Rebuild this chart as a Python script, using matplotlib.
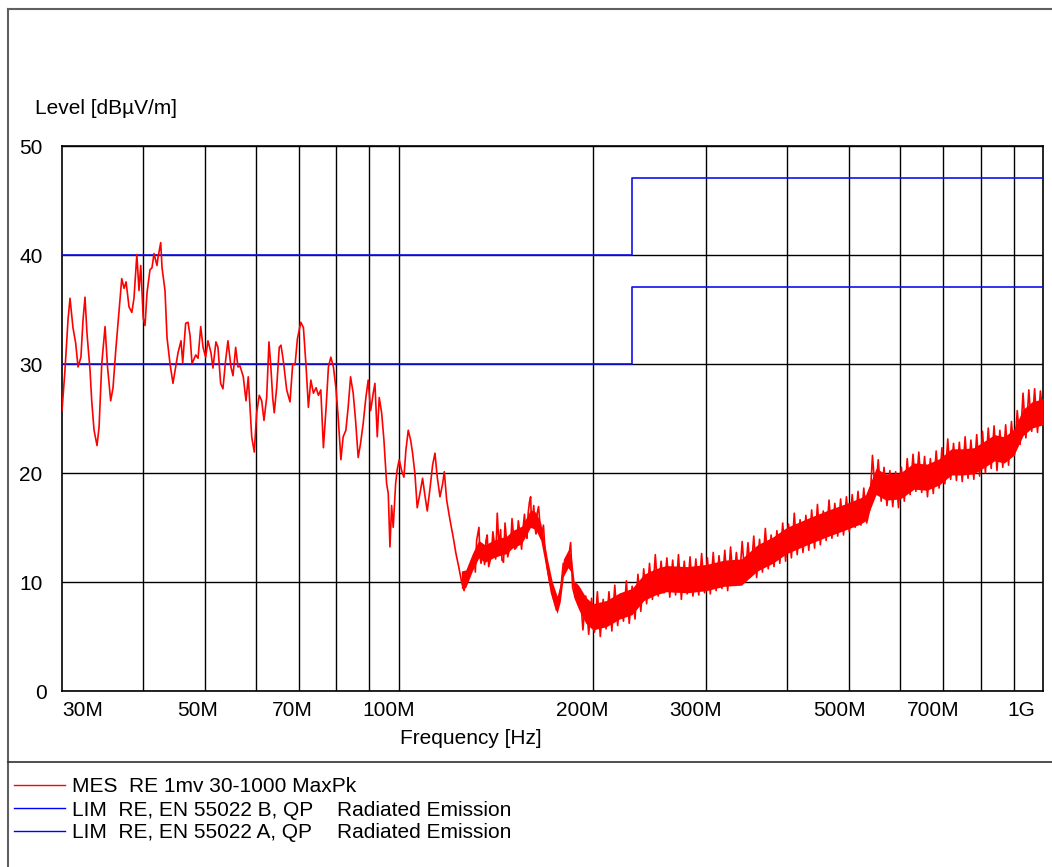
import numpy as np
import matplotlib
matplotlib.use("Agg")
import matplotlib.pyplot as plt
from matplotlib.lines import Line2D
from matplotlib.ticker import NullLocator
from matplotlib.transforms import ScaledTranslation, blended_transform_factory

plt.rcParams['font.family'] = ['Liberation Sans', 'DejaVu Sans']

# measurement, 30 M .. 190 M (MHz, dBuV/m)
mes_low_f = [
    30.0, 30.32, 30.65, 30.87, 31.2, 31.5, 31.77, 32.1, 32.34, 32.57, 32.8, 33.16, 33.36,
    33.64, 34.0, 34.25, 34.58, 34.99, 35.3, 35.7, 36.0, 36.35, 36.65, 37.14, 37.45, 37.72,
    38.12, 38.5, 38.8, 39.2, 39.5, 39.75, 40.1, 40.36, 40.65, 41.08, 41.38, 41.68, 42.12,
    42.27, 42.69, 42.89, 43.35, 43.66, 44.13, 44.6, 45.04, 45.41, 45.9, 46.18, 46.67, 47.06,
    47.4, 47.74, 48.38, 48.78, 49.25, 49.66, 50.13, 50.54, 51.09, 51.45, 52.0, 52.38, 52.88,
    53.32, 53.83, 54.28, 54.87, 55.27, 55.8, 56.26, 56.67, 57.34, 57.9, 58.37, 59.09, 59.64,
    60.15, 60.71, 61.24, 61.74, 62.34, 62.85, 63.23, 63.69, 64.05, 64.6, 65.21, 65.61, 66.15,
    66.96, 67.76, 68.42, 68.99, 69.58, 70.43, 71.09, 71.77, 72.36, 72.99, 73.67, 74.38, 75.0,
    75.64, 76.35, 77.09, 77.73, 78.4, 79.13, 79.83, 80.49, 81.27, 81.93, 82.73, 83.41, 84.13,
    84.92, 85.65, 86.45, 87.19, 88.0, 88.86, 89.6, 90.39, 91.23, 91.78, 92.55, 93.2, 94.01,
    94.78, 95.7, 96.26, 96.84, 97.42, 97.98, 98.83, 99.39, 100.1, 100.97, 101.8, 102.53,
    103.38, 104.27, 105.0, 105.89, 106.75, 107.79, 108.82, 109.75, 110.65, 111.71, 112.78,
    113.74, 114.68, 115.8, 116.9, 117.6, 118.6, 120.0, 121.4, 122.6, 123.8, 125.1, 126.2,
    127.4, 128.6, 129.7, 130.9, 131.4, 132.0, 133.1, 133.6, 134.1, 135.1, 135.8, 136.5,
    137.1, 137.8, 138.6, 139.3, 139.9, 140.6, 141.3, 142.1, 143.1, 143.8, 144.5, 145.3,
    146.1, 146.8, 147.5, 148.3, 149.1, 149.8, 150.4, 151.3, 152.3, 153.2, 154.1, 155.0,
    155.9, 156.6, 157.4, 158.0, 158.7, 159.4, 160.1, 160.6, 161.2, 161.9, 162.6, 163.2,
    163.9, 164.7, 165.5, 166.1, 166.8, 167.6, 168.4, 169.8, 171.1, 172.5, 174.0, 175.6,
    177.1, 178.4, 179.9, 181.6, 183.1, 184.7, 186.0, 187.6, 189.1,
]
mes_low_db = [
    25.7, 29.4, 34.0, 36.0, 33.3, 31.9, 29.7, 30.6, 34.0, 36.1, 32.8, 29.4, 26.6,
    23.9, 22.5, 24.2, 30.0, 33.4, 29.7, 26.6, 27.8, 31.2, 33.7, 37.8, 36.9, 37.5,
    35.2, 34.7, 36.0, 40.0, 36.7, 39.0, 34.2, 33.5, 36.5, 38.6, 38.8, 40.1, 39.0,
    39.7, 41.1, 38.8, 36.7, 32.4, 30.0, 28.2, 29.7, 31.0, 32.1, 30.1, 33.7, 33.8,
    32.6, 30.0, 30.8, 30.5, 33.4, 31.5, 30.6, 32.1, 31.0, 29.6, 32.0, 31.5, 28.2,
    27.7, 30.3, 32.1, 29.7, 28.9, 31.5, 29.7, 29.8, 28.8, 26.6, 28.8, 23.3, 21.9,
    25.5, 27.1, 26.6, 24.8, 26.9, 32.0, 30.0, 26.9, 25.5, 27.8, 31.5, 31.7, 30.3,
    27.6, 26.5, 30.0, 29.9, 32.3, 33.8, 33.3, 29.7, 26.0, 28.5, 27.3, 27.8, 27.1,
    27.6, 22.3, 26.0, 29.7, 30.6, 29.7, 27.8, 25.1, 21.2, 23.3, 23.9, 26.0, 28.8,
    27.3, 24.8, 21.4, 22.7, 24.5, 26.9, 28.5, 25.7, 27.3, 28.2, 23.3, 26.9, 25.5,
    23.0, 19.0, 18.1, 13.2, 17.0, 15.0, 19.0, 20.3, 21.2, 20.2, 19.6, 22.1,
    23.9, 23.0, 21.8, 19.9, 16.8, 18.1, 19.5, 17.9, 16.5, 18.5, 20.7,
    21.8, 19.6, 17.8, 19.0, 20.1, 17.5, 15.7, 14.1, 12.6, 11.4, 10.0, 9.2,
    10.2, 11.1, 11.7, 12.3, 10.9, 13.8, 15.0, 12.4, 11.7, 12.9, 11.6, 13.8,
    14.3, 11.4, 12.0, 12.9, 14.6, 13.6, 12.1, 16.3, 12.9, 14.8, 12.0, 11.8,
    15.4, 14.0, 12.3, 12.9, 13.6, 15.8, 14.7, 13.0, 13.2, 15.6, 14.5, 13.0,
    15.0, 16.2, 14.5, 14.0, 16.3, 17.3, 17.8, 15.2, 15.9, 17.0, 15.0, 14.4,
    16.3, 16.9, 15.4, 14.0, 14.5, 15.2, 13.2, 11.4, 10.2, 9.0, 8.3, 7.4,
    8.3, 9.5, 11.7, 11.4, 12.0, 13.6, 9.5, 8.6, 9.5,
]

# measurement, 191 M .. 1 G, receiver sweep with equal log steps
sweep_start, sweep_stop = 191.0, 1000.0
mes_high_db = [
    9.3, 5.6, 8.7, 5.2, 8.5, 5.4, 9.1, 5.0, 8.4, 5.7,
    9.1, 5.5, 9.7, 6.0, 8.8, 6.4, 10.1, 6.2, 9.6, 6.6,
    10.7, 7.3, 11.2, 8.0, 11.7, 8.4, 12.5, 8.7, 11.9, 9.0,
    12.2, 8.6, 12.0, 8.8, 12.5, 8.4, 11.9, 8.9, 12.3, 8.7,
    12.1, 8.8, 12.6, 9.0, 12.2, 8.9, 12.7, 9.2, 12.4, 9.4,
    12.9, 9.2, 13.2, 9.7, 12.7, 10.0, 13.7, 10.3, 13.6, 10.6,
    14.2, 10.4, 13.9, 10.9, 14.9, 11.2, 14.3, 11.4, 14.7, 11.7,
    15.4, 11.9, 15.3, 12.2, 16.3, 12.5, 15.7, 12.7, 16.1, 12.9,
    16.6, 13.1, 17.1, 13.4, 16.5, 13.8, 17.5, 14.0, 17.2, 14.2,
    17.6, 14.3, 17.8, 14.6, 18.0, 15.0, 18.3, 15.2, 18.6, 15.4,
    16.6, 21.6, 18.0, 21.2, 17.4, 20.5, 17.0, 20.2, 16.9, 20.1,
    16.8, 20.5, 17.4, 21.3, 18.0, 21.7, 18.3, 21.9, 18.2, 21.5,
    17.8, 21.3, 18.1, 22.0, 18.6, 22.3, 19.0, 23.1, 19.4, 22.7,
    19.3, 22.8, 19.2, 23.3, 19.5, 23.0, 19.4, 23.5, 19.7, 23.8,
    20.0, 24.1, 20.4, 24.3, 20.2, 23.9, 20.5, 24.4, 20.7, 24.7,
    21.6, 25.7, 22.6, 27.3, 23.2, 27.6, 23.8, 27.7, 23.7, 27.5,
    25.0,
]

# dense noise band of the trace: lower / upper edge (MHz, dBuV/m)
band_f = [125, 127, 130, 133, 136, 140, 143, 147, 150, 155, 158, 160, 163, 166, 168,
          170, 173, 176, 178, 180, 183, 185, 187, 190, 195, 200, 210, 220, 230, 240,
          250, 260, 280, 300, 320, 340, 360, 380, 400, 430, 460, 490, 520, 530, 545,
          550, 570, 600, 630, 660, 690, 720, 750, 780, 810, 840, 870, 900, 930, 960, 1000]
band_lo = [9.4, 9.5, 11.0, 12.2, 11.8, 12.2, 12.4, 12.6, 13.1, 13.5, 14.4, 15.0, 14.8, 13.8, 12.2,
           10.5, 8.4, 7.1, 8.2, 10.5, 11.3, 10.9, 8.5, 7.5, 6.2, 5.6, 5.9, 6.6, 7.0, 8.3,
           8.8, 9.1, 9.0, 9.2, 9.6, 9.7, 11.0, 11.7, 12.6, 13.4, 14.1, 14.7, 15.3, 15.6, 17.4,
           18.0, 17.5, 17.6, 18.5, 18.4, 18.9, 19.8, 19.8, 19.9, 20.5, 21.1, 20.9, 21.6, 23.4, 24.1, 24.4]
band_hi = [11.0, 11.1, 12.6, 13.8, 13.4, 13.8, 14.0, 14.2, 14.7, 15.1, 16.0, 16.6, 16.4, 15.4, 13.8,
           12.1, 10.0, 8.7, 9.8, 12.1, 12.9, 12.5, 10.1, 9.7, 8.6, 8.0, 8.3, 9.0, 9.4, 10.7,
           11.2, 11.5, 11.4, 11.6, 12.0, 12.1, 13.4, 14.1, 15.0, 15.8, 16.5, 17.1, 17.7, 18.0, 19.8,
           20.4, 19.9, 20.0, 20.9, 20.8, 21.3, 22.2, 22.2, 22.3, 22.9, 23.5, 23.3, 24.0, 25.8, 26.5, 26.8]

# limits EN 55022 (MHz, dBuV/m)
lim_f = [30, 230, 230, 1000]
lim_b_db = [30, 30, 37, 37]
lim_a_db = [40, 40, 47, 47]

grid_freqs = [40, 50, 60, 70, 80, 90, 100, 200, 300, 400, 500, 600, 700, 800, 900]
xtick_freqs = [30, 50, 70, 100, 200, 300, 500, 700, 1000]
xtick_labels = ['30M', '50M', '70M', '100M', '200M', '300M', '500M', '700M', '1G']
ytick_vals = [0, 10, 20, 30, 40, 50]

legend_names = ['MES  RE 1mv 30-1000 MaxPk',
                'LIM  RE, EN 55022 B, QP',
                'LIM  RE, EN 55022 A, QP']
legend_extra = ['', 'Radiated Emission', 'Radiated Emission']

W, H = 1052, 867
fig = plt.figure(figsize=(W / 100, H / 100), dpi=100)

def fx(x):
    return x / W

def fy(y):
    return 1 - y / H

ax = fig.add_axes([fx(62), fy(691), fx(1043.3) - fx(62), fy(145.5) - fy(691)])

order = np.argsort(mes_low_f)
low_f = np.array(mes_low_f)[order]
low_db = np.array(mes_low_db)[order]
high_f = np.geomspace(sweep_start, sweep_stop, len(mes_high_db))
mes_f = np.concatenate([low_f, high_f])
mes_db = np.concatenate([low_db, mes_high_db])

ax.plot(lim_f, lim_b_db, color='#1010f0', lw=1.2, zorder=3)
ax.plot(lim_f, lim_a_db, color='#1010f0', lw=1.2, zorder=3)
ax.fill_between(band_f, band_lo, band_hi, color='#ff0000', lw=0, zorder=4)
ax.plot(mes_f, mes_db, color='#ff0000', lw=1.2, zorder=4)

ax.set_xscale('log')
ax.set_xlim(30, 1000)
ax.set_ylim(0, 50)
ax.xaxis.set_minor_locator(NullLocator())
ax.set_xticks(grid_freqs)
ax.set_xticklabels([])
ax.set_yticks(ytick_vals)
ax.set_yticklabels([])
ax.tick_params(length=0)
ax.grid(True, color='black', lw=1.0, zorder=1)
ax.set_axisbelow(True)
for s in ax.spines.values():
    s.set_color('black')
    s.set_linewidth(1.2)

# x labels, shifted like the original print-out
px = fig.dpi_scale_trans
xshift = [0, -7.5, -7, -10, -10.5, -10.5, -10, -10.5, -8]
xha = ['left'] + ['center'] * 7 + ['right']
btr = blended_transform_factory(ax.transData, ax.transAxes)
for f, lab, dx, ha in zip(xtick_freqs, xtick_labels, xshift, xha):
    ax.text(f, 0, lab, ha=ha, va='baseline', fontsize=15,
            transform=btr + ScaledTranslation(dx / 100, -25.5 / 100, px))

ytr = blended_transform_factory(ax.transAxes, ax.transData)
for v in ytick_vals:
    dx = -15.6 if v == 0 else -19.3
    ax.text(0, v, str(v), ha='right', va='baseline', fontsize=15,
            transform=ytr + ScaledTranslation(dx / 100, -8.3 / 100, px))

fig.text(fx(35), fy(114), 'Level [dB\u00b5V/m]', fontsize=15, va='baseline')
fig.text(fx(471), fy(744), 'Frequency [Hz]', fontsize=15, va='baseline', ha='center')

# frame
frame_kw = dict(transform=fig.transFigure, color='#606060', lw=1.5)
fig.add_artist(Line2D([fx(7.5), fx(1052)], [fy(9), fy(9)], **frame_kw))
fig.add_artist(Line2D([fx(7.5), fx(7.5)], [fy(9), fy(867)], **frame_kw))
fig.add_artist(Line2D([fx(7.5), fx(1052)], [fy(762), fy(762)],
                      transform=fig.transFigure, color='#303030', lw=1.2))

# legend
leg_colors = ['#ff0000', '#0000ff', '#0000ff']
for i, (name, extra, c) in enumerate(zip(legend_names, legend_extra, leg_colors)):
    y = 785 + i * 23
    fig.add_artist(Line2D([fx(14), fx(65)], [fy(y), fy(y)],
                          transform=fig.transFigure, color=c, lw=1.0))
    fig.text(fx(71.7), fy(y + 7.5), name, fontsize=15, va='baseline')
    if extra:
        fig.text(fx(336.8), fy(y + 7.5), extra, fontsize=15, va='baseline')

fig.savefig('out.png', dpi=100)
